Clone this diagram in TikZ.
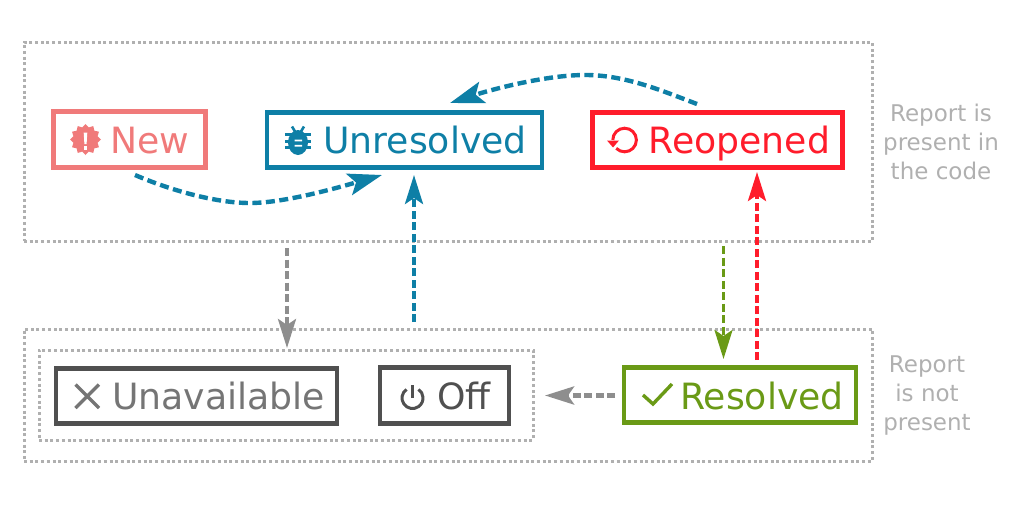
\documentclass[tikz,border=0pt]{standalone}
\usepackage{fontspec}
\setmainfont{DejaVu Sans}
\usetikzlibrary{arrows.meta}
\definecolor{cnew}{HTML}{F07A7A}
\definecolor{cteal}{HTML}{0E7FA6}
\definecolor{cred}{HTML}{FF1C2B}
\definecolor{cgreen}{HTML}{6A9A16}
\definecolor{cdark}{HTML}{505050}
\definecolor{cmid}{HTML}{757575}
\definecolor{carrow}{HTML}{8E8E8E}
\definecolor{cdot}{HTML}{B0B0B0}
\tikzset{
  statebox/.style={draw=#1,line width=4.4pt,rectangle,inner sep=0pt,outer sep=0pt,anchor=north west},
  label/.style={anchor=base west,inner sep=0pt,font=\fontsize{36.2}{36.2}\selectfont},
  note/.style={anchor=center,inner sep=0pt,align=center,text=cdot,font=\fontsize{23}{28.7}\selectfont},
  dotbox/.style={draw=cdot,line width=3pt,dash pattern=on 3pt off 2.7pt,rectangle,inner sep=0pt,outer sep=0pt,anchor=north west},
  flowline/.style={draw=#1,line width=3.8pt,dash pattern=on 8pt off 3.5pt,-{Stealth[length=29pt,width=18pt,inset=6pt,fill=#1]}},
  curveline/.style={draw=#1,line width=4.4pt,dash pattern=on 9pt off 4.5pt,-{Stealth[length=34pt,width=22pt,inset=7pt,fill=#1]}}
}
\begin{document}
\begin{tikzpicture}[x=1pt,y=-1pt]
\useasboundingbox (0,0) rectangle (1023,504);
% dotted frames
\node[dotbox,minimum width=848pt,minimum height=199pt] (top) at (24,42) {};
\node[dotbox,minimum width=848pt,minimum height=132pt] (bottom) at (24,329) {};
\node[dotbox,minimum width=494pt,minimum height=90pt] (inner) at (39,350) {};
% state boxes
\node[statebox=cnew,minimum width=152pt,minimum height=56pt] (new) at (53.5,111.5) {};
\node[statebox=cteal,minimum width=275pt,minimum height=55pt] (unres) at (267,112.5) {};
\node[statebox=cred,minimum width=250pt,minimum height=55pt] (reop) at (592.5,112.5) {};
\node[statebox=cdark,minimum width=281pt,minimum height=55pt] (unav) at (56,368.5) {};
\node[statebox=cdark,minimum width=129pt,minimum height=56pt] (off) at (380,367.5) {};
\node[statebox=cgreen,minimum width=232pt,minimum height=55pt] (res) at (624,367.5) {};
% labels
\node[label,text=cnew] (tnew) at (109.8,153.2) {New};
\node[label,text=cteal] (tunres) at (323,153.7) {Unresolved};
\node[label,text=cred] (treop) at (648.5,153.7) {Reopened};
\node[label,text=cmid] (tunav) at (112,409) {Unavailable};
\node[label,text=cdark] (toff) at (437,409) {Off};
\node[label,text=cgreen] (tres) at (680,409) {Resolved};
\node[note] (n1) at (941,142) {Report is\\present in\\the code};
\node[note] (n2) at (927,395.5) {Report\\is not\\present};
% icons
\fill[cnew] plot[samples at={0,...,23},variable=\t]
  ({85.5+(mod(\t,2)==0?15.5:12.5)*cos(\t*15)},{139.5+(mod(\t,2)==0?15.5:12.5)*sin(\t*15)}) -- cycle;
\fill[white] (83.7,132.5) -- (87.3,132.5) -- (86.6,144) -- (84.4,144) -- cycle;
\fill[white] (84,146) rectangle (87,150);
% bug
\draw[cteal,line width=2.6pt] (292,126.5) -- (295,131.5) (304,126.5) -- (301,131.5);
\draw[cteal,line width=3pt] (284.8,134.5) -- (311.2,134.5) (284.8,141) -- (311.2,141) (284.8,147.2) -- (311.2,147.2);
\fill[cteal] (298,142.5) ellipse [x radius=10pt,y radius=12.5pt];
\fill[white] (294.5,139.5) rectangle (302,141.4) (294.5,144.8) rectangle (302,146.6);
% reopen
\draw[cred,line width=3pt] (612.8,140) arc[start angle=180,end angle=-135,radius=11.8pt];
\fill[cred] (607,140.5) -- (619,140.5) -- (613,147.5) -- cycle;
% cross
\draw[cmid,line width=3.4pt] (75.5,384.5) -- (99,408) (99,384.5) -- (75.5,408);
% power
\draw[cdark,line width=3pt] (406.5,389.4) arc[start angle=125,end angle=415,radius=10.5pt];
\draw[cdark,line width=3pt] (412.5,385) -- (412.5,398);
% check
\draw[cgreen,line width=3.4pt] (643,395) -- (653,404) -- (672,384);
% connectors
\coordinate (a1) at (135,175);
\coordinate (a1m) at (250,203);
\coordinate (a1e) at (382,175);
\coordinate (a2) at (697,104);
\coordinate (a2m) at (585,75);
\coordinate (a2e) at (450,103);
\coordinate (a3) at (287,248);
\coordinate (a3e) at (287,348);
\coordinate (a4) at (414,322);
\coordinate (a4e) at (414,175);
\coordinate (a5) at (723.5,246);
\coordinate (a5e) at (723.5,359);
\coordinate (a6) at (757,360);
\coordinate (a6e) at (757,172);
\coordinate (a7) at (615,395.5);
\coordinate (a7e) at (545,395.5);
\draw[curveline=cteal] (a1) .. controls (170,190) and (215,203) .. (a1m) .. controls (285,203) and (340,187) .. (a1e);
\draw[curveline=cteal] (a2) .. controls (660,90) and (625,75) .. (a2m) .. controls (545,75) and (490,90) .. (a2e);
\draw[flowline=carrow] (a3) -- (a3e);
\draw[flowline=cteal] (a4) -- (a4e);
\draw[flowline=cgreen,line width=3.3pt] (a5) -- (a5e);
\draw[flowline=cred] (a6) -- (a6e);
\draw[flowline=carrow,line width=4.5pt] (a7) -- (a7e);
\end{tikzpicture}
\end{document}
